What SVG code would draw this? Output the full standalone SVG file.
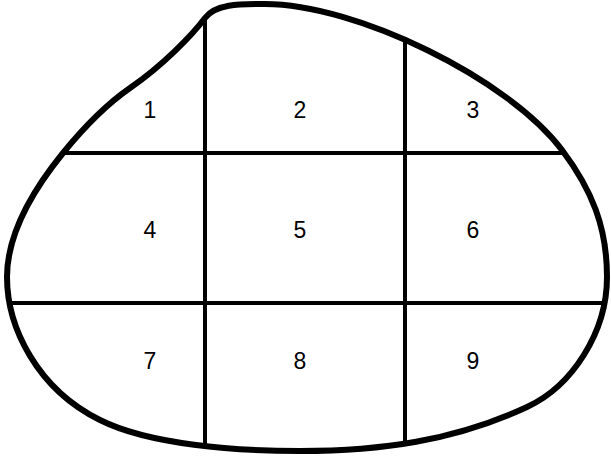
<svg xmlns="http://www.w3.org/2000/svg" width="611" height="459" viewBox="0 0 611 459">
<style>
.blob{fill:none;stroke:#000;stroke-width:6}
.grid{stroke:#000;stroke-width:4;fill:none}
.lbl{font-family:"Liberation Sans",Arial,sans-serif;font-size:23px;fill:#000;text-anchor:middle}
</style>
<defs>
<path id="outline" d="M205,18 C215.8,3.6 240,4 265,4 C355,4 508,78 562,150 C592,190 607,227 607,277 C607,332 572.4,386 527,407 C454,441 380,451 300,451 C235,451 149,444.6 100,420 C37,389 7,327 7,277 C7,232 34.6,188 63,153 C82,129.6 105.4,105.1 130,88 C162.8,65.2 191.8,35.6 205,18 Z"/>
<clipPath id="inside"><use href="#outline"/></clipPath>
</defs>
<rect width="611" height="459" fill="#fff"/>
<g id="connectors" clip-path="url(#inside)">
<line class="grid" x1="205" y1="0" x2="205" y2="459"/>
<line class="grid" x1="405" y1="0" x2="405" y2="459"/>
<line class="grid" x1="0" y1="153" x2="611" y2="153"/>
<line class="grid" x1="0" y1="303" x2="611" y2="303"/>
</g>
<g id="boundary"><use href="#outline" class="blob"/></g>
<g id="cell1"><text class="lbl" x="150" y="118">1</text></g>
<g id="cell2"><text class="lbl" x="300" y="118">2</text></g>
<g id="cell3"><text class="lbl" x="473" y="118">3</text></g>
<g id="cell4"><text class="lbl" x="150" y="238">4</text></g>
<g id="cell5"><text class="lbl" x="300" y="238">5</text></g>
<g id="cell6"><text class="lbl" x="473" y="238">6</text></g>
<g id="cell7"><text class="lbl" x="150" y="369">7</text></g>
<g id="cell8"><text class="lbl" x="300" y="369">8</text></g>
<g id="cell9"><text class="lbl" x="473" y="369">9</text></g>
</svg>
